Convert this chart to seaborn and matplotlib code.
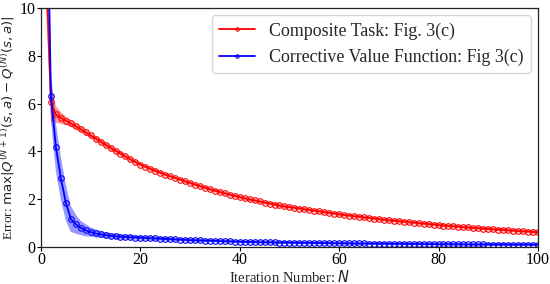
import numpy as np
import pandas as pd
import matplotlib
matplotlib.use("Agg")
import matplotlib.pyplot as plt
import seaborn as sns

iterations = list(range(1, 101))

composite_mean = [
    11.8, 6.05, 5.55, 5.40, 5.28, 5.17, 5.05, 4.93, 4.80, 4.67,
    4.54, 4.41, 4.28, 4.15, 4.03, 3.91, 3.79, 3.67, 3.56, 3.45,
    3.36, 3.27, 3.19, 3.11, 3.03, 2.96, 2.89, 2.82, 2.75, 2.68,
    2.61, 2.55, 2.48, 2.42, 2.36, 2.30, 2.25, 2.19, 2.14, 2.09,
    2.04, 1.99, 1.95, 1.91, 1.86, 1.82, 1.78, 1.74, 1.70, 1.67,
    1.64, 1.61, 1.58, 1.55, 1.52, 1.49, 1.46, 1.43, 1.40, 1.37,
    1.34, 1.32, 1.29, 1.27, 1.24, 1.22, 1.19, 1.17, 1.14, 1.12,
    1.10, 1.08, 1.06, 1.04, 1.02, 1.00, 0.98, 0.96, 0.94, 0.92,
    0.90, 0.88, 0.87, 0.85, 0.83, 0.82, 0.80, 0.79, 0.77, 0.76,
    0.74, 0.73, 0.72, 0.70, 0.69, 0.67, 0.66, 0.65, 0.63, 0.62,
]
composite_spread = [
    1.60, 0.80, 0.35, 0.25, 0.18, 0.15, 0.13, 0.12, 0.12, 0.11,
    0.11, 0.10, 0.10, 0.10, 0.09, 0.09, 0.09, 0.09, 0.08, 0.08,
    0.08, 0.08, 0.08, 0.08, 0.08, 0.07, 0.07, 0.07, 0.07, 0.07,
    0.07, 0.07, 0.07, 0.07, 0.07, 0.07, 0.07, 0.07, 0.07, 0.07,
    0.07, 0.07, 0.07, 0.07, 0.07, 0.07, 0.07, 0.07, 0.07, 0.07,
    0.07, 0.07, 0.07, 0.07, 0.07, 0.07, 0.07, 0.07, 0.07, 0.07,
    0.07, 0.07, 0.07, 0.07, 0.07, 0.07, 0.07, 0.07, 0.07, 0.07,
    0.07, 0.07, 0.07, 0.07, 0.07, 0.07, 0.07, 0.07, 0.07, 0.07,
    0.07, 0.07, 0.07, 0.07, 0.07, 0.07, 0.07, 0.07, 0.07, 0.07,
    0.07, 0.07, 0.07, 0.07, 0.07, 0.07, 0.07, 0.07, 0.07, 0.07,
]

corrective_mean = [
    18.0, 6.30, 4.18, 2.88, 1.86, 1.18, 0.96, 0.80, 0.70, 0.63,
    0.57, 0.53, 0.50, 0.47, 0.45, 0.43, 0.42, 0.41, 0.40, 0.39,
    0.38, 0.37, 0.36, 0.35, 0.34, 0.33, 0.32, 0.31, 0.30, 0.29,
    0.285, 0.28, 0.27, 0.265, 0.26, 0.25, 0.245, 0.24, 0.23, 0.22,
    0.215, 0.21, 0.21, 0.205, 0.20, 0.20, 0.195, 0.19, 0.19, 0.185,
    0.18, 0.18, 0.175, 0.175, 0.17, 0.17, 0.165, 0.165, 0.16, 0.16,
    0.155, 0.155, 0.15, 0.15, 0.15, 0.145, 0.145, 0.14, 0.14, 0.14,
    0.135, 0.135, 0.135, 0.13, 0.13, 0.13, 0.125, 0.125, 0.125, 0.12,
    0.12, 0.12, 0.115, 0.115, 0.115, 0.11, 0.11, 0.11, 0.11, 0.105,
    0.105, 0.105, 0.105, 0.10, 0.10, 0.10, 0.10, 0.10, 0.095, 0.095,
]
corrective_spread = [
    3.00, 1.00, 1.00, 0.90, 0.75, 0.55, 0.40, 0.30, 0.25, 0.20,
    0.17, 0.15, 0.13, 0.12, 0.11, 0.10, 0.10, 0.09, 0.09, 0.09,
    0.08, 0.08, 0.08, 0.08, 0.08, 0.07, 0.07, 0.07, 0.07, 0.07,
    0.07, 0.07, 0.06, 0.06, 0.06, 0.06, 0.06, 0.06, 0.06, 0.06,
    0.06, 0.06, 0.06, 0.06, 0.06, 0.06, 0.06, 0.06, 0.06, 0.06,
    0.06, 0.06, 0.06, 0.06, 0.06, 0.06, 0.06, 0.06, 0.06, 0.06,
    0.06, 0.06, 0.06, 0.06, 0.06, 0.06, 0.06, 0.06, 0.06, 0.06,
    0.06, 0.06, 0.06, 0.06, 0.06, 0.06, 0.06, 0.06, 0.06, 0.06,
    0.06, 0.06, 0.06, 0.06, 0.06, 0.06, 0.06, 0.06, 0.06, 0.06,
    0.06, 0.06, 0.06, 0.06, 0.06, 0.06, 0.06, 0.06, 0.06, 0.06,
]

series_labels = ["Composite Task: Fig. 3(c)", "Corrective Value Function: Fig 3(c)"]
series_colors = ["#ff0000", "#0000ff"]

sns.set_style("ticks")
plt.rcParams["font.family"] = ["Liberation Serif", "DejaVu Serif"]
plt.rcParams["mathtext.fontset"] = "dejavusans"

fig, ax = plt.subplots(figsize=(5.5, 2.84), dpi=100)
fig.subplots_adjust(left=0.0745, right=0.978, bottom=0.13, top=0.972)

for mean, spread, label, color in zip(
    [composite_mean, corrective_mean],
    [composite_spread, corrective_spread],
    series_labels, series_colors):
    m = np.array(mean)
    s = np.array(spread)
    ax.fill_between(iterations, m - s, m + s, color=color, alpha=0.4, linewidth=0)
    df = pd.DataFrame({"N": iterations, "v": m})
    sns.lineplot(data=df, x="N", y="v", ax=ax, color=color, label=label,
                 marker="o", markersize=4.0, markerfacecolor="none",
                 markeredgecolor=color, markeredgewidth=0.8, linewidth=1.3)

ax.set_xlim(0, 100)
ax.set_ylim(0, 10)
ax.set_xticks([0, 20, 40, 60, 80, 100])
ax.set_yticks([0, 2, 4, 6, 8, 10])
ax.tick_params(labelsize=11.5, length=3, width=0.8, colors="black", pad=0.8)
for sp in ax.spines.values():
    sp.set_color("#222222")
    sp.set_linewidth(0.9)

ax.set_xlabel("Iteration Number: $N$", fontsize=10.5)
ax.set_ylabel("Error: $\\max|Q^{(N+1)}(s,a) - Q^{(N)}(s,a)|$", fontsize=9.6)
ax.xaxis.set_label_coords(0.5, -0.09)
ax.yaxis.set_label_coords(-0.049, 0.5)

ax.legend(loc="upper right", fontsize=12.9, markerscale=0.6, frameon=True,
          fancybox=True, framealpha=0.8, edgecolor="#cccccc",
          handlelength=2.0, borderaxespad=0.4)

fig.savefig("out.png", dpi=100)
